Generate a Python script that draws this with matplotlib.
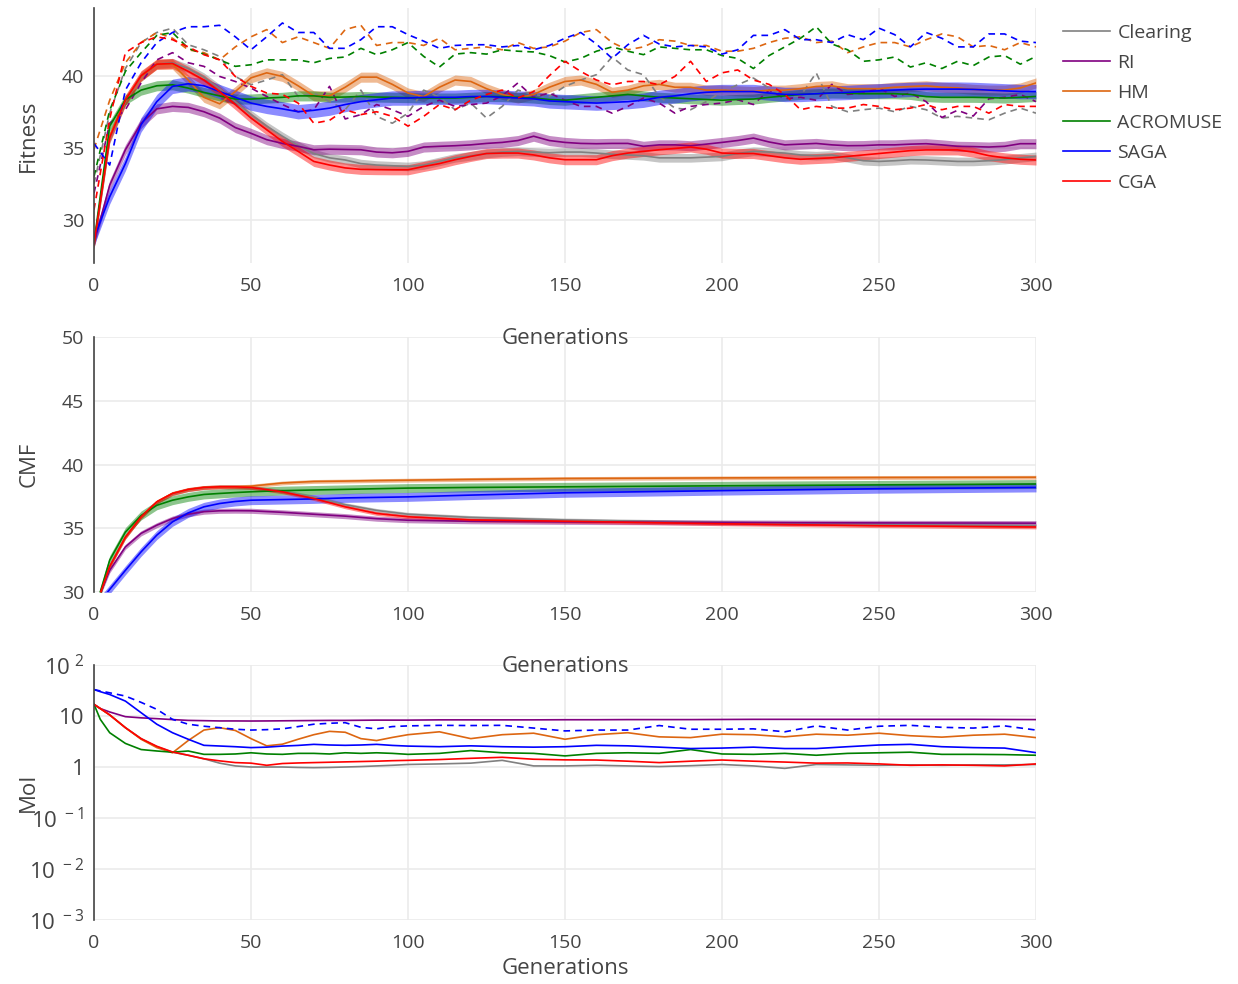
import numpy as np
import matplotlib
matplotlib.use("Agg")
import matplotlib.pyplot as plt
from matplotlib.lines import Line2D

plt.rcParams["font.family"] = ["Open Sans", "DejaVu Sans"]
plt.rcParams["mathtext.fontset"] = "custom"
plt.rcParams["mathtext.rm"] = "Open Sans"
plt.rcParams["mathtext.default"] = "regular"

methods = ["Clearing", "RI", "HM", "ACROMUSE", "SAGA", "CGA"]
colors = ["#808080", "#800080", "#dd6611", "#008000", "#0000ff", "#ff0000"]

# ---- top panel: mean fitness (solid + band) and best fitness (dashed), every 5 generations
gens = list(range(0, 301, 5))

fit_clearing = [28.3, 35.6, 38.2, 39.9, 40.8, 40.9, 40.5, 39.9, 39.1, 38.2,
                37.3, 36.5, 35.8, 35.15, 34.6, 34.3, 34.15, 33.9, 33.8, 33.75,
                33.7, 33.8, 34.05, 34.3, 34.44, 34.6, 34.7, 34.75, 34.7, 34.65,
                34.7, 34.7, 34.63, 34.55, 34.5, 34.44, 34.3, 34.3, 34.3, 34.35,
                34.4, 34.6, 34.75, 34.7, 34.63, 34.5, 34.45, 34.5, 34.3, 34.1,
                34.05, 34.1, 34.17, 34.15, 34.1, 34.05, 34.05, 34.1, 34.17, 34.3,
                34.4]
fit_ri = [28.4, 32.4, 34.86, 36.7, 37.7, 37.87, 37.8, 37.5, 37.06, 36.4,
          36.0, 35.56, 35.3, 35.1, 34.86, 34.9, 34.88, 34.86, 34.7, 34.65,
          34.75, 35.05, 35.1, 35.14, 35.2, 35.3, 35.37, 35.5, 35.8, 35.5,
          35.37, 35.3, 35.28, 35.3, 35.3, 35.1, 35.2, 35.2, 35.14, 35.25,
          35.37, 35.5, 35.67, 35.4, 35.2, 35.25, 35.3, 35.2, 35.14, 35.15,
          35.2, 35.2, 35.25, 35.28, 35.2, 35.1, 35.08, 35.05, 35.1, 35.28,
          35.28]
fit_hm = [28.3, 35.8, 38.3, 39.95, 40.8, 40.8, 39.7, 38.5, 38.05, 38.9,
          39.85, 40.2, 39.95, 39.3, 38.6, 38.6, 39.2, 39.9, 39.9, 39.4,
          38.8, 38.55, 39.2, 39.7, 39.6, 39.1, 38.7, 38.45, 38.7, 39.2,
          39.6, 39.7, 39.4, 38.85, 39.0, 39.3, 39.4, 39.2, 39.2, 39.0,
          39.0, 38.95, 38.9, 39.0, 39.0, 39.1, 39.25, 39.3, 39.1, 39.1,
          39.1, 39.2, 39.25, 39.3, 39.2, 39.15, 39.05, 39.0, 39.0, 39.15,
          39.5]
fit_acromuse = [28.4, 36.5, 38.33, 39.0, 39.3, 39.37, 39.14, 38.84, 38.6, 38.38,
                38.38, 38.45, 38.5, 38.6, 38.6, 38.5, 38.52, 38.56, 38.52, 38.5,
                38.48, 38.45, 38.45, 38.45, 38.5, 38.56, 38.55, 38.5, 38.45, 38.35,
                38.3, 38.4, 38.5, 38.6, 38.7, 38.6, 38.5, 38.45, 38.4, 38.35,
                38.3, 38.35, 38.38, 38.5, 38.6, 38.7, 38.75, 38.8, 38.78, 38.75,
                38.75, 38.75, 38.7, 38.55, 38.5, 38.5, 38.5, 38.48, 38.45, 38.5,
                38.56]
fit_saga = [28.7, 31.6, 33.9, 36.6, 38.2, 39.26, 39.44, 39.3, 38.9, 38.5,
            38.1, 37.87, 37.7, 37.5, 37.6, 37.75, 38.0, 38.2, 38.33, 38.45,
            38.45, 38.5, 38.5, 38.5, 38.55, 38.56, 38.5, 38.45, 38.4, 38.25,
            38.2, 38.15, 38.1, 38.15, 38.2, 38.3, 38.5, 38.6, 38.75, 38.85,
            38.9, 38.9, 38.9, 38.8, 38.7, 38.7, 38.75, 38.8, 38.84, 38.9,
            38.95, 39.0, 39.05, 39.07, 39.07, 39.07, 39.05, 39.0, 38.95, 38.9,
            38.9]
fit_cga = [28.3, 35.7, 38.3, 40.0, 40.8, 40.85, 40.3, 39.7, 38.9, 38.0,
           37.06, 36.25, 35.44, 34.75, 34.05, 33.8, 33.6, 33.5, 33.48, 33.47,
           33.47, 33.7, 33.9, 34.17, 34.4, 34.6, 34.63, 34.63, 34.5, 34.3,
           34.17, 34.17, 34.17, 34.45, 34.63, 34.75, 34.86, 34.95, 35.05, 34.9,
           34.63, 34.6, 34.6, 34.45, 34.3, 34.2, 34.25, 34.3, 34.4, 34.5,
           34.6, 34.7, 34.8, 34.85, 34.85, 34.85, 34.7, 34.45, 34.3, 34.2,
           34.15]

max_clearing = [32.5, 37.4, 40.5, 42.3, 43.0, 43.3, 42.15, 41.8, 41.34, 39.95,
                39.37, 39.7, 40.07, 38.56, 38.8, 38.2, 37.64, 39.0, 37.18, 36.7,
                37.4, 39.0, 38.5, 37.64, 38.1, 37.06, 37.87, 39.0, 38.7, 38.56,
                39.26, 39.7, 40.07, 41.3, 40.4, 40.07, 38.56, 37.75, 37.64, 38.2,
                38.9, 39.37, 39.84, 39.14, 38.56, 38.6, 40.2, 37.87, 37.5, 37.64,
                37.75, 37.5, 37.87, 37.64, 37.06, 37.18, 37.06, 36.94, 37.4, 37.75,
                37.4]
max_ri = [31.85, 36.7, 37.64, 39.5, 41.1, 41.6, 40.9, 40.65, 39.95, 39.6,
          39.14, 38.56, 38.0, 37.5, 37.64, 39.26, 37.0, 37.3, 38.0, 37.64,
          37.18, 37.87, 38.3, 37.87, 38.0, 38.1, 38.6, 39.5, 38.5, 38.8,
          38.3, 37.87, 37.87, 37.4, 37.87, 38.45, 38.1, 37.4, 37.87, 38.0,
          38.1, 38.33, 38.0, 39.0, 38.4, 38.5, 38.3, 39.4, 38.7, 38.8,
          39.14, 38.56, 38.8, 38.2, 37.1, 37.6, 37.2, 38.4, 38.5, 38.7,
          38.2]
max_hm = [34.9, 38.3, 40.9, 42.3, 43.0, 42.6, 41.8, 41.6, 41.1, 42.0,
          42.7, 43.2, 42.3, 42.7, 42.3, 41.9, 43.2, 43.5, 42.1, 42.3,
          42.3, 42.1, 42.6, 41.8, 41.9, 42.0, 41.8, 42.3, 41.9, 42.0,
          42.4, 43.0, 43.2, 42.3, 41.8, 42.0, 42.5, 42.4, 42.1, 42.1,
          41.7, 41.7, 41.9, 42.3, 42.6, 42.7, 42.3, 42.4, 41.6, 42.0,
          42.3, 42.3, 42.0, 42.5, 42.9, 42.7, 42.0, 42.1, 41.8, 42.3,
          42.0]
max_acromuse = [33.0, 37.6, 40.3, 41.6, 42.8, 43.0, 41.9, 41.5, 41.1, 40.65,
                40.76, 41.1, 41.1, 41.1, 40.9, 41.2, 41.3, 41.9, 41.46, 41.8,
                42.3, 41.34, 40.6, 41.5, 41.6, 41.5, 41.8, 41.7, 41.65, 41.4,
                40.95, 41.2, 41.7, 42.0, 41.7, 41.46, 42.0, 41.9, 41.8, 41.8,
                41.4, 41.2, 40.5, 41.4, 42.0, 42.6, 43.4, 42.2, 41.8, 41.0,
                41.1, 41.3, 40.6, 40.9, 40.5, 41.0, 40.7, 41.3, 41.4, 40.8,
                41.34]
max_saga = [35.3, 33.8, 39.0, 40.9, 42.3, 43.0, 43.4, 43.4, 43.5, 42.7,
            41.8, 42.7, 43.66, 43.0, 43.0, 41.9, 41.9, 42.5, 43.4, 43.4,
            42.85, 42.4, 41.9, 42.1, 42.15, 42.15, 42.0, 42.1, 41.8, 42.1,
            42.6, 43.0, 42.2, 41.2, 42.15, 42.8, 42.2, 42.0, 42.1, 42.0,
            41.5, 41.8, 42.8, 42.8, 43.2, 42.5, 42.5, 42.3, 42.85, 42.5,
            43.3, 42.85, 42.0, 43.0, 42.6, 42.0, 42.0, 42.9, 42.9, 42.4,
            42.3]
max_cga = [30.7, 37.0, 41.6, 42.3, 42.7, 42.5, 42.0, 41.46, 41.1, 39.95,
           39.26, 38.8, 38.7, 38.1, 36.7, 36.9, 37.64, 37.3, 37.5, 37.18,
           36.5, 37.18, 38.0, 37.64, 38.3, 38.7, 39.0, 38.45, 38.9, 40.0,
           41.0, 40.3, 39.7, 39.37, 39.6, 39.6, 39.37, 39.95, 41.0, 39.6,
           40.2, 40.4, 39.7, 39.4, 38.7, 37.64, 37.87, 37.75, 37.75, 38.0,
           37.87, 37.64, 37.75, 38.0, 37.64, 37.87, 37.87, 37.4, 38.0, 37.87,
           37.87]

fit_sd = [0.3, 0.35, 0.35, 0.35, 0.5, 0.35]

# ---- middle panel: cumulative mean fitness
cmf_gens = [0, 2, 5, 10, 15, 20, 25, 30, 35, 40, 45, 50, 60, 70, 80, 90, 100, 120, 150, 200, 250, 300]
cmf_clearing = [28.3, 29.9, 32.0, 34.3, 35.9, 37.05, 37.7, 38.02, 38.18, 38.25, 38.25,
                38.2, 37.9, 37.45, 36.85, 36.4, 36.1, 35.85, 35.65, 35.45, 35.3, 35.2]
cmf_ri = [28.4, 29.9, 31.7, 33.54, 34.6, 35.24, 35.76, 36.1, 36.3, 36.37, 36.38,
          36.37, 36.25, 36.1, 35.95, 35.75, 35.63, 35.55, 35.5, 35.45, 35.42, 35.4]
cmf_hm = [28.3, 29.9, 32.0, 34.3, 35.9, 37.07, 37.73, 38.04, 38.2, 38.25, 38.25,
          38.3, 38.55, 38.67, 38.7, 38.74, 38.77, 38.83, 38.9, 38.95, 38.98, 39.0]
cmf_acromuse = [28.4, 30.0, 32.5, 34.7, 36.0, 36.8, 37.2, 37.46, 37.65, 37.73, 37.8,
                37.86, 37.95, 38.0, 38.05, 38.1, 38.15, 38.2, 38.25, 38.33, 38.4, 38.47]
cmf_saga = [28.7, 29.3, 30.2, 31.7, 33.15, 34.46, 35.5, 36.2, 36.68, 36.94, 37.1,
            37.2, 37.25, 37.3, 37.38, 37.42, 37.46, 37.6, 37.78, 37.95, 38.1, 38.2]
cmf_cga = [28.3, 29.9, 32.0, 34.3, 35.9, 37.07, 37.73, 38.04, 38.2, 38.25, 38.25,
           38.2, 37.86, 37.33, 36.68, 36.16, 35.9, 35.65, 35.55, 35.35, 35.2, 35.1]
cmf_sd = [0.15, 0.2, 0.15, 0.35, 0.35, 0.15]

# ---- bottom panel: MoI (log scale)
moi_gens = [0, 2, 5, 10, 15, 20, 25, 30, 35, 40, 45, 50, 55, 60, 65, 70, 75, 80, 85, 90, 95, 100,
            110, 120, 130, 140, 150, 160, 170, 180, 190, 200, 210, 220, 230, 240, 250, 260, 270, 280, 290, 300]
moi_clearing = [16.9, 14.0, 10.5, 5.9, 3.6, 2.5, 1.95, 1.7, 1.45, 1.19, 1.05, 1.0, 1.0, 1.0, 0.98, 0.97,
                0.98, 1.0, 1.02, 1.05, 1.08, 1.12,
                1.15, 1.19, 1.35, 1.05, 1.05, 1.08, 1.05, 1.02, 1.06, 1.12, 1.05, 0.94, 1.12, 1.1,
                1.08, 1.1, 1.08, 1.1, 1.1, 1.12]
moi_ri = [16.9, 14.0, 12.0, 9.7, 9.2, 8.87, 8.5, 8.2, 8.1, 8.0, 8.0, 7.97, 8.0, 8.05, 8.1, 8.15,
          8.2, 8.2, 8.25, 8.3, 8.3, 8.3,
          8.4, 8.4, 8.4, 8.4, 8.45, 8.45, 8.5, 8.5, 8.5, 8.55, 8.6, 8.6, 8.6, 8.6,
          8.6, 8.6, 8.6, 8.6, 8.55, 8.5]
moi_hm = [16.9, 14.0, 10.5, 5.9, 3.5, 2.4, 1.9, 3.3, 5.3, 5.9, 5.2, 3.6, 2.6, 2.8, 3.5, 4.3,
          5.0, 4.8, 3.6, 3.3, 3.8, 4.3,
          4.9, 3.6, 4.3, 4.6, 3.5, 4.3, 4.7, 3.9, 3.77, 4.4, 4.3, 3.9, 4.4, 4.2,
          4.6, 4.1, 3.85, 4.2, 4.4, 3.77]
moi_acromuse = [16.9, 8.6, 4.7, 2.9, 2.2, 2.06, 1.95, 2.06, 1.77, 1.77, 1.8, 1.9, 1.8, 1.77, 1.85, 1.85,
                1.8, 1.9, 1.85, 1.9, 1.85, 1.77,
                1.85, 2.1, 1.9, 1.85, 1.65, 1.85, 1.9, 1.85, 2.2, 1.8, 1.77, 1.85, 1.7, 1.85,
                1.9, 1.95, 1.77, 1.77, 1.75, 1.7]
moi_saga = [33.0, 30.0, 26.4, 19.6, 11.6, 6.9, 4.7, 3.5, 2.66, 2.58, 2.5, 2.4, 2.45, 2.57, 2.65, 2.78,
            2.7, 2.66, 2.7, 2.78, 2.65, 2.57,
            2.5, 2.6, 2.5, 2.45, 2.5, 2.66, 2.6, 2.45, 2.3, 2.35, 2.45, 2.3, 2.3, 2.5,
            2.7, 2.78, 2.5, 2.4, 2.35, 1.91]
moi_cga = [16.9, 14.0, 10.5, 5.9, 3.6, 2.55, 1.97, 1.7, 1.45, 1.32, 1.22, 1.19, 1.08, 1.17, 1.2, 1.22,
           1.24, 1.26, 1.28, 1.3, 1.33, 1.35,
           1.4, 1.48, 1.55, 1.42, 1.38, 1.37, 1.3, 1.22, 1.3, 1.37, 1.3, 1.25, 1.19, 1.2,
           1.15, 1.08, 1.1, 1.08, 1.05, 1.15]
moi_saga_dash = [33.0, 31.0, 28.5, 24.6, 18.5, 13.5, 8.6, 6.9, 6.3, 5.9, 5.5, 5.3, 5.4, 5.6, 6.2, 6.9,
                 7.2, 7.4, 6.0, 5.6, 6.2, 6.4,
                 6.56, 6.5, 6.56, 5.8, 5.1, 5.3, 5.3, 6.5, 5.5, 5.5, 5.6, 4.9, 6.4, 5.3,
                 6.3, 6.56, 6.0, 5.8, 6.4, 5.3]

fit_means = [fit_clearing, fit_ri, fit_hm, fit_acromuse, fit_saga, fit_cga]
fit_maxes = [max_clearing, max_ri, max_hm, max_acromuse, max_saga, max_cga]
cmf_means = [cmf_clearing, cmf_ri, cmf_hm, cmf_acromuse, cmf_saga, cmf_cga]
mois = [moi_clearing, moi_ri, moi_hm, moi_acromuse, moi_saga, moi_cga]

TXT = "#444444"
GRID = "#ebebeb"
LW = 1.2
DASH = (0, (4, 3))

fig = plt.figure(figsize=(12.38, 9.84), dpi=100)
left, width, height = 94 / 1238, 942 / 1238, 255 / 984
ax1 = fig.add_axes([left, 1 - 263 / 984, width, height])
ax2 = fig.add_axes([left, 1 - 592 / 984, width, height])
ax3 = fig.add_axes([left, 1 - 920 / 984, width, height])


def style(ax, ylabel, title_py):
    for s in ["top", "right", "bottom"]:
        ax.spines[s].set_visible(False)
    ax.spines["left"].set_color(TXT)
    ax.spines["left"].set_linewidth(1.2)
    ax.set_xlim(0, 300)
    ax.set_xticks(range(0, 301, 50))
    ax.grid(True, color=GRID, lw=1.2)
    ax.set_axisbelow(True)
    ax.tick_params(length=0, labelsize=14, colors=TXT)
    ax.tick_params(axis="y", pad=7)
    ax.tick_params(axis="x", pad=10)
    ax.set_ylabel(ylabel, fontsize=16, color=TXT)
    ax.yaxis.set_label_coords(-0.058, 0.5)
    # x title drawn on the figure so the next panel doesn't hide it
    fig.text(565 / 1238, 1 - title_py / 984, "Generations", ha="center", va="center",
             fontsize=16, color=TXT, zorder=10)


# top
g = np.array(gens)
for name, c, m, mx, sd in zip(methods, colors, fit_means, fit_maxes, fit_sd):
    m = np.array(m)
    ax1.fill_between(g, m - sd, m + sd, color=c, alpha=0.45, lw=0)
    ax1.plot(g, m, color=c, lw=LW)
    ax1.plot(g, mx, color=c, lw=LW, ls=DASH)
ax1.set_ylim(27.0, 44.7)
ax1.set_yticks([30, 35, 40])
style(ax1, "Fitness", 338)

# middle
cg = np.array(cmf_gens)
for name, c, m, sd in zip(methods, colors, cmf_means, cmf_sd):
    m = np.array(m)
    ax2.fill_between(cg, m - sd, m + sd, color=c, alpha=0.45, lw=0)
    ax2.plot(cg, m, color=c, lw=LW)
ax2.set_ylim(30, 50)
ax2.set_yticks([30, 35, 40, 45, 50])
style(ax2, "CMF", 667)

# bottom
for name, c, v in zip(methods, colors, mois):
    ax3.plot(moi_gens, v, color=c, lw=LW)
ax3.plot(moi_gens, moi_saga_dash, color=colors[4], lw=LW, ls=DASH)
ax3.set_yscale("log")
ax3.set_ylim(1e-3, 1e2)
ax3.set_yticks([1e-3, 1e-2, 1e-1, 1, 10, 100])
ax3.set_yticklabels([r"$10^{\ -3}$", r"$10^{\ -2}$", r"$10^{\ -1}$", "1", "10", r"$10^{\ 2}$"])
ax3.minorticks_off()
style(ax3, "MoI", 968)
for lab in ax3.get_yticklabels():
    lab.set_fontsize(16)

handles = [Line2D([], [], color=c, lw=LW) for c in colors]
fig.legend(handles, methods, loc="upper left", bbox_to_anchor=(1063 / 1238, 1 - 24 / 984),
           frameon=False, fontsize=14, handlelength=2.4, handletextpad=0.4,
           labelspacing=0.62, borderpad=0, borderaxespad=0, labelcolor=TXT)

fig.savefig("out.png", dpi=100)
